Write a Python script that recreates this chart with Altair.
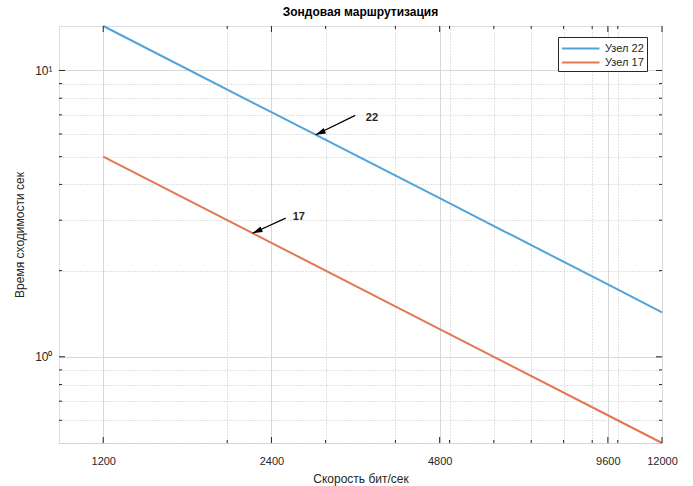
import altair as alt
import pandas as pd

# Convergence time of probe routing vs. link speed (log-log)
speed = [1200, 2400, 4800, 9600, 12000]
node22 = [14.3, 7.15, 3.58, 1.79, 1.43]
node17 = [5.0, 2.5, 1.25, 0.625, 0.5]
series_names = ["Узел 22", "Узел 17"]
series_colors = ["#52a3da", "#e27852"]

# axis ticks and grid positions
x_labeled = [1200, 2400, 4800, 9600, 12000]
x_grid = [1200, 2000, 2400, 3000, 4000, 4800, 5000, 6000, 7000, 8000, 9000, 9600, 10000, 12000]
x_minor = [2000, 3000, 4000, 5000, 6000, 7000, 8000, 9000, 10000]
y_labeled = [1, 10]
y_grid = [0.5, 0.6, 0.7, 0.8, 0.9, 1, 2, 3, 4, 5, 6, 7, 8, 9, 10]
y_minor = [0.6, 0.7, 0.8, 0.9, 2, 3, 4, 5, 6, 7, 8, 9]

# arrow annotations pointing at the curves
ann_label = ["22", "17"]
ann_tip_x = [2880, 2220]
ann_tip_y = [5.96, 2.70]
ann_tail_x = [3390, 2545]
ann_tail_y = [6.97, 3.05]
ann_text_x = [3540, 2620]
ann_text_y = [6.80, 3.07]

W, H = 603, 417
FONT = "Liberation Sans"
INK = "#262626"

lines_df = pd.DataFrame({
    "speed": speed * 2,
    "time": node22 + node17,
    "node": [series_names[0]] * len(speed) + [series_names[1]] * len(speed),
})
ann_df = pd.DataFrame({
    "label": ann_label,
    "tip_x": ann_tip_x, "tip_y": ann_tip_y,
    "tail_x": ann_tail_x, "tail_y": ann_tail_y,
    "text_x": ann_text_x, "text_y": ann_text_y,
})

xscale = alt.Scale(type="log", domain=[1000, 12000], nice=False)
yscale = alt.Scale(type="log", domain=[0.5, 14.3], nice=False)

x_major_test = "indexof([" + ",".join(str(v) for v in x_labeled) + "], datum.value) >= 0"
y_major_test = "indexof([" + ",".join(str(v) for v in y_labeled) + "], datum.value) >= 0"

x_axis = alt.Axis(
    values=x_grid, format="d",
    labelExpr=f"{x_major_test} ? datum.label : ''",
    labelOverlap=False, labelFlush=False,
    grid=True,
    gridColor={"condition": {"test": x_major_test, "value": "#d8d8d8"}, "value": "#c4c4c4"},
    gridDash={"condition": {"test": x_major_test, "value": []}, "value": [1, 2]},
    domain=False, ticks=False,
    labelPadding=12, labelFontSize=11, labelColor=INK, labelFont=FONT,
    title="Скорость бит/сек", titleFontSize=12, titleFontWeight="normal",
    titleColor=INK, titleFont=FONT, titlePadding=7,
)
y_axis = alt.Axis(
    values=y_grid,
    labelExpr="datum.value == 10 ? '10¹' : datum.value == 1 ? '10⁰' : ''",
    labelOverlap=False, labelFlush=False,
    grid=True,
    gridColor={"condition": {"test": y_major_test, "value": "#d8d8d8"}, "value": "#c4c4c4"},
    gridDash={"condition": {"test": y_major_test, "value": []}, "value": [1, 2]},
    domain=False, ticks=False,
    labelPadding=7, labelFontSize=12, labelColor=INK, labelFont=FONT,
    title="Время сходимости сек", titleFontSize=12, titleFontWeight="normal",
    titleColor=INK, titleFont=FONT, titlePadding=8,
)


def X(field):
    return alt.X(field, scale=xscale, axis=x_axis)


def Y(field):
    return alt.Y(field, scale=yscale, axis=y_axis)


lines = alt.Chart(lines_df).mark_line(strokeWidth=2).encode(
    x=X("speed:Q"),
    y=Y("time:Q"),
    color=alt.Color(
        "node:N",
        scale=alt.Scale(domain=series_names, range=series_colors),
        legend=alt.Legend(
            title=None, orient="none", legendX=499, legendY=11,
            direction="vertical",
            symbolType="M-1,0L4,0", symbolSize=225, symbolStrokeWidth=2,
            labelOffset=27, labelFontSize=11, labelFont=FONT, labelColor=INK,
            rowPadding=0, padding=3, strokeColor=INK, fillColor="white",
            cornerRadius=0,
        ),
        sort=series_names,
    ),
    detail="node:N",
)


def x_ticks(values, length):
    df = pd.DataFrame({"v": values})
    base = alt.Chart(df).mark_rule(color=INK, strokeWidth=1)
    bottom = base.encode(x=X("v:Q"), y=alt.value(H), y2=alt.value(H - length))
    top = base.encode(x=X("v:Q"), y=alt.value(0), y2=alt.value(length))
    return [bottom, top]


def y_ticks(values, length):
    df = pd.DataFrame({"v": values})
    base = alt.Chart(df).mark_rule(color=INK, strokeWidth=1)
    left = base.encode(y=Y("v:Q"), x=alt.value(0), x2=alt.value(length))
    right = base.encode(y=Y("v:Q"), x=alt.value(W), x2=alt.value(W - length))
    return [left, right]


tick_layers = (x_ticks(x_labeled, 6) + x_ticks(x_minor, 3)
               + y_ticks(y_labeled, 6) + y_ticks(y_minor, 3))

ann = alt.Chart(ann_df)
shaft = ann.mark_rule(color="black", strokeWidth=1.2).encode(
    x=X("tail_x:Q"), y=Y("tail_y:Q"),
    x2="tip_x:Q", y2="tip_y:Q",
)
head = ann.mark_point(
    shape="M0,0L-0.6,2L0.6,2Z", filled=True, color="black",
    size=100, angle=246, opacity=1,
).encode(x=X("tip_x:Q"), y=Y("tip_y:Q"))
ann_text = ann.mark_text(
    align="left", baseline="middle", fontSize=11, fontWeight="bold",
    font=FONT, color=INK,
).encode(x=X("text_x:Q"), y=Y("text_y:Q"), text="label:N")

chart = alt.layer(lines, *tick_layers, shaft, head, ann_text).properties(
    width=W, height=H,
    autosize=alt.AutoSizeParams(type="none"),
    padding={"left": 59, "top": 26, "right": 31, "bottom": 43},
    title=alt.Title(
        "Зондовая маршрутизация", fontSize=12, fontWeight="bold",
        font=FONT, color="black", anchor="middle", offset=3,
    ),
).configure_view(
    stroke=INK, strokeWidth=1,
).configure(background="white")

chart.save("out.html", embed_options={"renderer": "svg", "actions": False})
